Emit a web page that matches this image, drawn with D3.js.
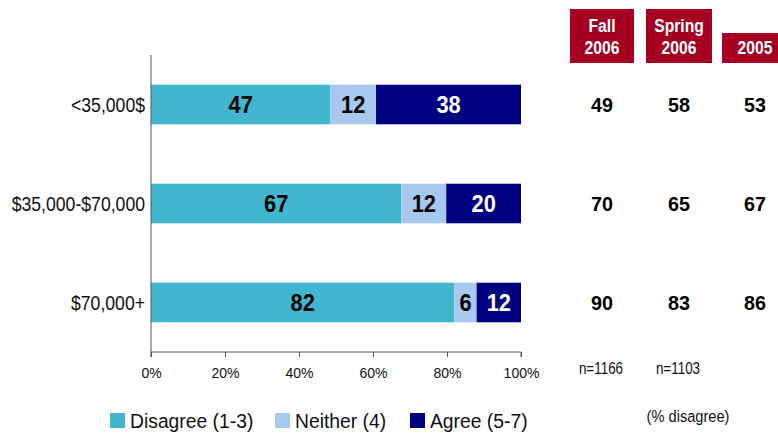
<!DOCTYPE html>
<html>
<head>
<meta charset="utf-8">
<script src="https://cdn.jsdelivr.net/npm/d3@7"></script>
<style>
  body { margin: 0; background: #fff; }
  svg { display: block; font-family: "Liberation Sans", Arial, sans-serif; }
</style>
</head>
<body>
<svg id="chart" width="778" height="433"></svg>
<script>
// Income groups and response shares (%)
const categories = ["<35,000$", "$35,000-$70,000", "$70,000+"];
const disagree = [47, 67, 82];
const neither = [12, 12, 6];
const agree = [38, 20, 12];

// Trend columns (% disagree)
const trendHeaders = [["Fall", "2006"], ["Spring", "2006"], ["2005"]];
const fall2006 = [49, 70, 90];
const spring2006 = [58, 65, 83];
const y2005 = [53, 67, 86];
const sampleSizes = ["n=1166", "n=1103"];

const xTicks = [0, 20, 40, 60, 80, 100];
const seriesNames = ["Disagree (1-3)", "Neither (4)", "Agree (5-7)"];
const colors = ["#40B7CF", "#A7C9EF", "#000080"];
const labelColors = ["#000", "#000", "#fff"];

const svg = d3.select("#chart");
const plotLeft = 151, plotRight = 521, plotTop = 55, plotBottom = 352;

// Text helper with optional horizontal condensing
function label(parent, x, y, str, o = {}) {
  return parent.append("text")
    .attr("transform", `translate(${x},${y}) scale(${o.sx || 1},1)`)
    .attr("text-anchor", o.anchor || "start")
    .attr("font-size", o.size || 14)
    .attr("font-weight", o.weight || "normal")
    .attr("fill", o.fill || "#111")
    .text(str);
}

const x = d3.scaleLinear().domain([0, 100]).range([plotLeft, plotRight]);
const y = d3.scaleBand().domain(categories).range([plotTop, plotBottom]).paddingInner(0.6).paddingOuter(0.3);

// 100% stacked: each row is scaled to its own total
const rows = categories.map((c, i) => {
  const vals = [disagree[i], neither[i], agree[i]];
  return { cat: c, vals, total: d3.sum(vals) };
});
const stacked = d3.stack().keys([0, 1, 2]).value((d, k) => d.vals[k] / d.total * 100)(rows);

// Stacked bars
stacked.forEach((layer, k) => {
  const g = svg.append("g");
  g.selectAll("rect").data(layer).enter().append("rect")
    .attr("x", d => x(d[0]))
    .attr("y", d => y(d.data.cat))
    .attr("width", d => x(d[1]) - x(d[0]))
    .attr("height", y.bandwidth())
    .attr("fill", colors[k]);
  layer.forEach(d => {
    label(g, (x(d[0]) + x(d[1])) / 2, y(d.data.cat) + y.bandwidth() / 2 + 8,
      d.data.vals[k], { anchor: "middle", size: 23, weight: "bold", fill: labelColors[k], sx: 0.95 });
  });
});

// X axis
const xAxis = svg.append("g")
  .attr("transform", `translate(0,${plotBottom})`)
  .call(d3.axisBottom(x).tickValues(xTicks).tickSize(5).tickPadding(11).tickFormat(d => d + "%"));
xAxis.select(".domain").attr("stroke", "#555").attr("d", `M${plotLeft},0V5M${plotLeft},0H${plotRight}V5`);
xAxis.selectAll(".tick line").attr("stroke", "#555");
xAxis.selectAll(".tick text").attr("font-size", 14).attr("fill", "#111")
  .attr("font-family", "'Liberation Sans', Arial, sans-serif");

// Y axis line and category labels
svg.append("line").attr("x1", plotLeft).attr("x2", plotLeft).attr("y1", plotTop).attr("y2", plotBottom)
  .attr("stroke", "#555");
const catG = svg.append("g");
categories.forEach(c => {
  label(catG, 145, y(c) + y.bandwidth() / 2 + 7.5, c, { anchor: "end", size: 21, sx: 0.84 });
});

// Trend column headers
const colX = [602, 679, 755];
const boxes = [
  { x0: 570, x1: 634, y0: 9, y1: 63 },
  { x0: 646, x1: 712, y0: 9, y1: 63 },
  { x0: 722, x1: 790, y0: 33, y1: 63 }
];
trendHeaders.forEach((lines, i) => {
  const b = boxes[i];
  svg.append("rect").attr("x", b.x0).attr("y", b.y0)
    .attr("width", b.x1 - b.x0).attr("height", b.y1 - b.y0).attr("fill", "#A50021");
  lines.forEach((t, j) => {
    label(svg, colX[i], 54 - (lines.length - 1 - j) * 22, t,
      { anchor: "middle", size: 18, weight: "bold", fill: "#fff", sx: 0.87 });
  });
});

// Trend values
[fall2006, spring2006, y2005].forEach((vals, i) => {
  const g = svg.append("g");
  vals.forEach((v, r) => {
    label(g, colX[i], y(categories[r]) + y.bandwidth() / 2 + 7.5, v,
      { anchor: "middle", size: 21, weight: "bold", fill: "#000", sx: 0.94 });
  });
});

// Sample sizes
sampleSizes.forEach((t, i) => {
  label(svg, colX[i] - 1, 374, t, { anchor: "middle", size: 16, sx: 0.84 });
});

// Legend
const legendX = [110, 275, 410];
seriesNames.forEach((name, i) => {
  svg.append("rect").attr("x", legendX[i]).attr("y", 413).attr("width", 15).attr("height", 15)
    .attr("fill", colors[i]);
  label(svg, legendX[i] + 20, 428, name, { size: 21, sx: 0.92 });
});
label(svg, 688, 422, "(% disagree)", { anchor: "middle", size: 17, sx: 0.86 });
</script>
</body>
</html>
